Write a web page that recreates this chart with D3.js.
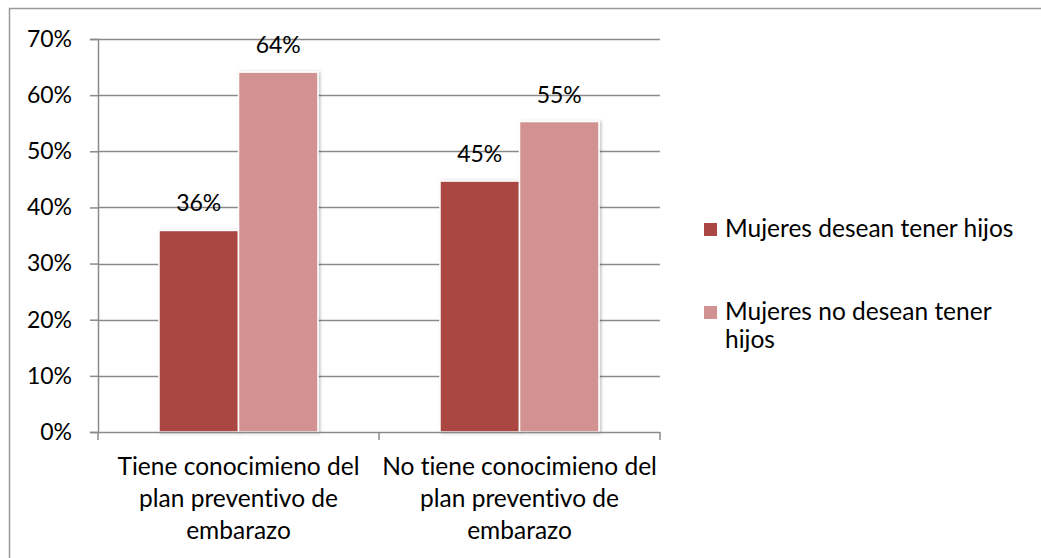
<!DOCTYPE html>
<html>
<head>
<meta charset="utf-8">
<script src="https://cdn.jsdelivr.net/npm/d3@7"></script>
<style>
  html, body { margin: 0; padding: 0; background: #fff; }
  svg { display: block; font-family: Lato, "Open Sans", sans-serif; font-variant-ligatures: none; }
</style>
</head>
<body>
<svg id="chart" width="1041" height="558"></svg>
<script>
// Chart data
const categories = [
    ['Tiene conocimieno del', 'plan preventivo de', 'embarazo'],
    ['No tiene conocimieno del', 'plan preventivo de', 'embarazo']
];
const seriesNames = ['Mujeres desean tener hijos', 'Mujeres no desean tener hijos'];
const legendLines = [['Mujeres desean tener hijos'], ['Mujeres no desean tener', 'hijos']];
const desean = [0.359, 0.447];
const noDesean = [0.641, 0.553];
const yTicks = [0, 0.1, 0.2, 0.3, 0.4, 0.5, 0.6, 0.7];

const colors = ['#AA4643', '#D39292'];
const FONT_SIZE = 24.5;
const TICK_FONT_SIZE = 23;

const svg = d3.select('#chart');

// Outer chart border (right/bottom edges fall outside the picture)
svg.append('rect')
    .attr('x', 9.5).attr('y', 8.5)
    .attr('width', 1060).attr('height', 580)
    .attr('fill', 'none')
    .attr('stroke', '#9a9a9a')
    .attr('stroke-width', 1.5);

const plot = { left: 98, right: 660, top: 39, bottom: 432 };

const y = d3.scaleLinear().domain([0, 0.7]).range([plot.bottom, plot.top]);

const x0 = d3.scaleBand()
    .domain(d3.range(categories.length))
    .range([plot.left, plot.right]);

const x1 = d3.scaleBand()
    .domain(d3.range(seriesNames.length))
    .range([61, x0.bandwidth() - 61]);

// Gridlines
svg.append('g')
    .selectAll('line')
    .data(yTicks.slice(1))
    .join('line')
    .attr('x1', plot.left).attr('x2', plot.right)
    .attr('y1', d => Math.round(y(d)) + 0.5)
    .attr('y2', d => Math.round(y(d)) + 0.5)
    .attr('stroke', '#8a8a8a')
    .attr('stroke-width', 1.5);

// Y axis
const yAxis = svg.append('g')
    .attr('transform', `translate(${plot.left},0)`)
    .call(d3.axisLeft(y)
        .tickValues(yTicks)
        .tickFormat(d3.format('.0%'))
        .tickSize(8)
        .tickPadding(18));
yAxis.select('.domain').attr('stroke', '#8a8a8a').attr('stroke-width', 1.5);
yAxis.selectAll('.tick line').attr('stroke', '#8a8a8a').attr('stroke-width', 1.5);
yAxis.selectAll('.tick text')
    .attr('fill', '#000')
    .style('font-size', TICK_FONT_SIZE + 'px')
    .style('font-family', 'Lato, sans-serif');

// Shadow filter for bars
const defs = svg.append('defs');
const shadow = defs.append('filter').attr('id', 'shadow')
    .attr('x', '-10%').attr('y', '-10%').attr('width', '130%').attr('height', '120%');
shadow.append('feDropShadow')
    .attr('dx', 1.5).attr('dy', 0.5)
    .attr('stdDeviation', 1.5)
    .attr('flood-color', '#000')
    .attr('flood-opacity', 0.25);

// Bars
const rows = categories.map((c, i) => [desean[i], noDesean[i]]);

const groups = svg.append('g')
    .selectAll('g')
    .data(rows)
    .join('g')
    .attr('transform', (d, i) => `translate(${x0(i)},0)`);

groups.selectAll('rect')
    .data(d => d)
    .join('rect')
    .attr('x', (d, j) => x1(j))
    .attr('y', d => y(d))
    .attr('width', x1.bandwidth())
    .attr('height', d => plot.bottom - y(d))
    .attr('fill', (d, j) => colors[j])
    .attr('stroke', '#fff')
    .attr('stroke-width', 1.5)
    .attr('filter', 'url(#shadow)');

// Data labels
groups.selectAll('text')
    .data(d => d)
    .join('text')
    .attr('x', (d, j) => x1(j) + x1.bandwidth() / 2)
    .attr('y', d => y(d) - 19)
    .attr('text-anchor', 'middle')
    .style('font-size', TICK_FONT_SIZE + 'px')
    .text(d => d3.format('.0%')(d));

// X axis line and category ticks
svg.append('line')
    .attr('x1', plot.left).attr('x2', plot.right)
    .attr('y1', plot.bottom + 0.5).attr('y2', plot.bottom + 0.5)
    .attr('stroke', '#8a8a8a').attr('stroke-width', 1.5);

const xTickPos = x0.domain().map(i => x0(i)).concat([plot.right]);
svg.append('g')
    .selectAll('line')
    .data(xTickPos)
    .join('line')
    .attr('x1', d => d).attr('x2', d => d)
    .attr('y1', plot.bottom).attr('y2', plot.bottom + 8)
    .attr('stroke', '#8a8a8a').attr('stroke-width', 1.5);

// Category labels
svg.append('g')
    .selectAll('text')
    .data(categories)
    .join('text')
    .attr('text-anchor', 'middle')
    .style('font-size', FONT_SIZE + 'px')
    .attr('transform', (d, i) => `translate(${x0(i) + x0.bandwidth() / 2},475)`)
    .selectAll('tspan')
    .data(d => d)
    .join('tspan')
    .attr('x', 0)
    .attr('y', (d, k) => k * 32)
    .text(d => d);

// Legend
const legendY = [237, 320];
const legend = svg.append('g')
    .selectAll('g')
    .data(seriesNames)
    .join('g')
    .attr('transform', (d, i) => `translate(704,${legendY[i]})`);

legend.append('rect')
    .attr('x', 0).attr('y', -14)
    .attr('width', 13).attr('height', 13)
    .attr('fill', (d, i) => colors[i]);

legend.append('text')
    .attr('x', 21)
    .style('font-size', FONT_SIZE + 'px')
    .selectAll('tspan')
    .data((d, i) => legendLines[i])
    .join('tspan')
    .attr('x', 21)
    .attr('y', (d, k) => k * 28)
    .text(d => d);
</script>
</body>
</html>
